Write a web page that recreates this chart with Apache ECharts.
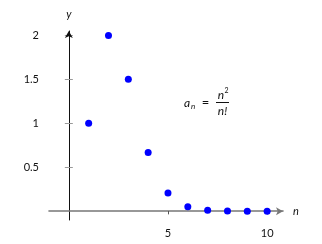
<!DOCTYPE html>
<html><head><meta charset="utf-8">
<script src="https://cdn.jsdelivr.net/npm/echarts@6/dist/echarts.min.js"></script>
<style>html,body{margin:0;padding:0;background:#fff}#c{width:322px;height:244px}</style>
</head><body><div id="c"></div>
<script>
const nValues = [1, 2, 3, 4, 5, 6, 7, 8, 9, 10];
const aValues = [1, 2, 1.5, 0.667, 0.208, 0.05, 0.0097, 0.0016, 0.0002, 0.00003];
const xTicks = [5, 10];
const yTicks = [0.5, 1, 1.5, 2];
const xRange = [-1, 10.8];
const yRange = [-0.1, 2.05];

const FONT = 'Lato';
const chart = echarts.init(document.getElementById('c'));
const grid = {left: 49, right: 39, top: 31, bottom: 24};

function xAxisBase(inside) {
  return {
    type: 'value', min: xRange[0], max: xRange[1], splitLine: {show: false},
    axisLine: {show: !inside, onZero: true, onZeroAxisIndex: 0,
      lineStyle: {color: '#777', width: 1.6},
      symbol: ['none', 'arrow'], symbolSize: [6, 7]},
    axisTick: {show: true, inside: inside, length: 3, customValues: xTicks,
      lineStyle: {color: '#555', width: 1}},
    axisLabel: {show: !inside, customValues: xTicks, margin: 8, color: '#111',
      fontFamily: FONT, fontSize: 11},
    name: inside ? '' : 'n', nameLocation: 'end', nameGap: 10,
    nameTextStyle: {fontStyle: 'italic', fontFamily: FONT, fontSize: 11, color: '#111'}
  };
}
function yAxisBase(inside) {
  return {
    type: 'value', position: 'left', min: yRange[0], max: yRange[1], splitLine: {show: false},
    axisLine: {show: !inside, onZero: true, onZeroAxisIndex: 0,
      lineStyle: {color: '#111', width: 1},
      symbol: ['none', 'arrow'], symbolSize: [6, 7]},
    axisTick: {show: true, inside: inside, length: 4, customValues: yTicks,
      lineStyle: {color: '#999', width: 1}},
    axisLabel: {show: !inside, customValues: yTicks, margin: 10, color: '#111',
      fontFamily: FONT, fontSize: 11},
    name: inside ? '' : 'y', nameLocation: 'end', nameGap: 11,
    nameTextStyle: {fontStyle: 'italic', fontFamily: FONT, fontSize: 11, color: '#111'}
  };
}

const txt = (x, y, t, size, italic, align) => ({
  type: 'text', x: x, y: y, silent: true,
  style: {text: t, font: (italic ? 'italic ' : '') + size + 'px ' + FONT,
    fill: '#111', align: align || 'left', verticalAlign: 'middle'}
});

chart.setOption({
  animation: false,
  grid: grid,
  xAxis: [xAxisBase(false), xAxisBase(true)],
  yAxis: [yAxisBase(false), yAxisBase(true)],
  series: [{
    type: 'scatter', xAxisIndex: 0, yAxisIndex: 0,
    data: nValues.map((n, i) => [n, aValues[i]]),
    symbolSize: 7, itemStyle: {color: '#0000ff', opacity: 1}
  }],
  graphic: [
    txt(184, 103, 'a', 12, true),
    txt(191, 106, 'n', 8, true),
    txt(205.5, 103, '=', 13, false, 'center'),
    txt(221, 95, 'n', 12, true, 'center'),
    txt(224.5, 91, '2', 7, false),
    {type: 'line', silent: true, shape: {x1: 216, y1: 102.5, x2: 229, y2: 102.5},
      style: {stroke: '#111', lineWidth: 1}},
    txt(222.5, 111, 'n!', 12, true, 'center')
  ]
});
</script></body></html>
